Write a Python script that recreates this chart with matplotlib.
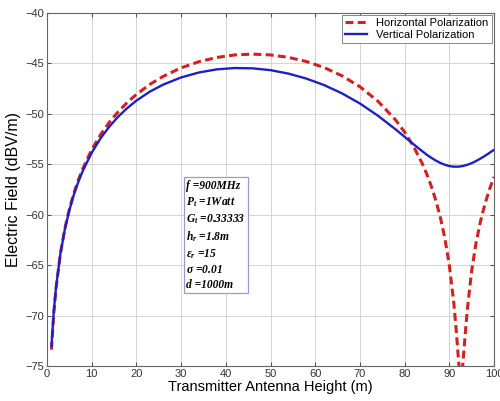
import matplotlib.pyplot as plt

plt.rcParams['font.family'] = ['Liberation Sans', 'DejaVu Sans']
plt.rcParams['mathtext.fontset'] = 'custom'
plt.rcParams['mathtext.it'] = 'Liberation Serif:italic:bold'
plt.rcParams['mathtext.rm'] = 'Liberation Serif:italic:bold'

# antenna height (m)
x_h = [1, 1.5, 2, 3, 4, 5, 6, 7, 8, 10, 12, 14, 16, 18, 20, 23, 26, 30, 34,
       38, 42, 46, 50, 54, 58, 62, 66, 70, 74, 78, 80, 82, 84, 85, 86, 87,
       88, 89, 90, 91, 91.5, 92, 92.3, 92.6, 92.9, 93, 93.5, 94, 95, 96, 97,
       98, 99, 100]
horizontal = [-73.37, -69.86, -67.36, -63.85, -61.37, -59.45, -57.88, -56.57,
              -55.44, -53.56, -52.06, -50.81, -49.76, -48.86, -48.08, -47.09,
              -46.29, -45.45, -44.84, -44.42, -44.17, -44.09, -44.17, -44.41,
              -44.82, -45.42, -46.24, -47.32, -48.74, -50.62, -51.81, -53.23,
              -54.98, -56.02, -57.21, -58.61, -60.27, -62.32, -64.99, -68.71,
              -71.19, -74.05, -75.6, -76.2, -75.45, -74.99, -72.17, -69.53,
              -65.56, -62.75, -60.61, -58.90, -57.47, -56.25]

x_v = [1, 1.5, 2, 3, 4, 5, 6, 7, 8, 10, 12, 14, 16, 18, 20, 23, 26, 30, 34,
       38, 42, 46, 50, 54, 58, 62, 66, 70, 74, 78, 80, 82, 84, 85, 86, 87,
       88, 89, 90, 91, 92, 93, 94, 95, 96, 97, 98, 99, 100]
vertical = [-73.02, -69.68, -67.27, -63.86, -61.43, -59.56, -58.03, -56.76,
            -55.66, -53.86, -52.42, -51.24, -50.25, -49.42, -48.70, -47.81,
            -47.11, -46.40, -45.91, -45.60, -45.47, -45.50, -45.68, -46.02,
            -46.51, -47.16, -47.98, -48.98, -50.18, -51.55, -52.28, -53.02,
            -53.73, -54.07, -54.37, -54.64, -54.87, -55.05, -55.18, -55.24,
            -55.24, -55.18, -55.06, -54.89, -54.68, -54.43, -54.16, -53.87,
            -53.57]

params = ['f =900MHz', r'P$_t$ =1Watt', r'G$_t$ =0.33333', r'h$_r$ =1.8m',
          r'$\varepsilon_r$ =15', r'$\sigma$ =0.01', 'd =1000m']

fig = plt.figure(figsize=(5, 4.01), dpi=100)
ax = fig.add_axes([0.094, 0.087, 0.894, 0.881])

ax.plot(x_h, horizontal, color='#d42020', linestyle='--', linewidth=2.2,
        dashes=(2.6, 1.4), label='Horizontal Polarization')
ax.plot(x_v, vertical, color='#2020c0', linewidth=1.7,
        label='Vertical Polarization')

ax.set_xlim(0, 100)
ax.set_ylim(-75, -40)
ax.set_xticks(range(0, 101, 10))
ax.set_yticks(range(-75, -39, 5))
ax.grid(True, color='#d4d4d4', linestyle='-', linewidth=0.7)
ax.tick_params(direction='in', top=True, right=True, labelsize=8,
               length=3, colors='#555555', labelcolor='#333333', pad=2)
for s in ax.spines.values():
    s.set_color('#666666')
    s.set_linewidth(0.8)

ax.set_xlabel('Transmitter Antenna Height (m)', fontsize=10.5, labelpad=1)
ax.set_ylabel('Electric Field (dBV/m)', fontsize=11.5, labelpad=3)

leg = ax.legend(loc='upper right', fontsize=8, frameon=True, fancybox=False,
                borderpad=0.3, labelspacing=0.15, handlelength=2.0,
                borderaxespad=0.2, framealpha=1)
leg.get_frame().set_edgecolor('#888888')
leg.get_frame().set_linewidth(0.7)

ax.text(0.312, 0.528, '\n'.join(params), transform=ax.transAxes,
        family='Liberation Serif', style='italic', weight='bold',
        fontsize=8.3, va='top', ha='left', linespacing=1.32,
        bbox=dict(boxstyle='square,pad=0.2', facecolor='white',
                  edgecolor='#9a9ad0', linewidth=0.9))

fig.savefig('out.png', dpi=100)
